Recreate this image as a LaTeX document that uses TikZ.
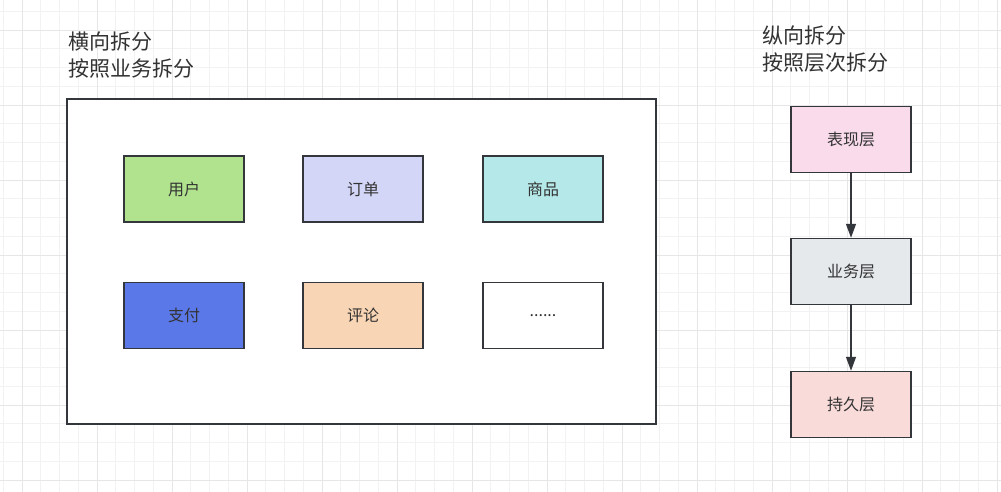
\documentclass[tikz,border=0pt]{standalone}
\usepackage{fontspec}
\newfontfamily\cjk{Noto Sans CJK SC}
\usetikzlibrary{arrows.meta}

\definecolor{edgec}{HTML}{33363B}
\definecolor{txtc}{HTML}{333333}
\definecolor{gridminor}{HTML}{F2F2F2}
\definecolor{gridmajor}{HTML}{E6E6E6}
\definecolor{userc}{HTML}{B1E38F}
\definecolor{orderc}{HTML}{D4D6F8}
\definecolor{goodsc}{HTML}{B5E9E9}
\definecolor{payc}{HTML}{5B78E9}
\definecolor{commentc}{HTML}{F8D5B4}
\definecolor{presc}{HTML}{F9DBEB}
\definecolor{bizc}{HTML}{E5E9EC}
\definecolor{persistc}{HTML}{F9DCDA}

\begin{document}
\begin{tikzpicture}
	[x=1pt,y=-1pt,
	box/.style={draw=edgec,line width=1.5pt,minimum width=120pt,
		minimum height=66pt,inner sep=0pt,text=txtc,
		font=\cjk\fontsize{16}{18}\selectfont},
	heading/.style={anchor=north west,inner sep=0pt,align=left,text=txtc,
		font=\cjk\fontsize{21}{27}\selectfont},
	arr/.style={-{Triangle[length=14pt,width=10pt]},draw=edgec,line width=1.4pt}]
	\useasboundingbox (0,0) rectangle (1001,492);
	\fill[white] (0,0) rectangle (1001,492);
	% grid
	\foreach \x in {3.25,22,...,1001}
		\draw[gridminor,line width=0.8pt] (\x,0) -- (\x,492);
	\foreach \y in {11.25,30,...,492}
		\draw[gridminor,line width=0.8pt] (0,\y) -- (1001,\y);
	\foreach \x in {22,97,...,1001}
		\draw[gridmajor,line width=0.8pt] (\x,0) -- (\x,492);
	\foreach \y in {30,105,...,492}
		\draw[gridmajor,line width=0.8pt] (0,\y) -- (1001,\y);
	
	% horizontal split
	\node[heading] (htitle) at (68,32) {横向拆分\\按照业务拆分};
	\node[draw=edgec,fill=white,line width=1.5pt,minimum width=589pt,
		minimum height=325pt,inner sep=0pt] (outer) at (361.5,261.5) {};
	\node[box,fill=userc] (user) at (184,189) {用户};
	\node[box,fill=orderc] (order) at (363,189) {订单};
	\node[box,fill=goodsc] (goods) at (543,189) {商品};
	\node[box,fill=payc] (pay) at (184,315.5) {支付};
	\node[box,fill=commentc] (comment) at (363,315.5) {评论};
	\node[box,fill=white] (more) at (543,315.5) {......};
	
	% vertical split
	\node[heading] (vtitle) at (762,26) {纵向拆分\\按照层次拆分};
	\node[box,fill=presc] (pres) at (851,139.5) {表现层};
	\node[box,fill=bizc] (biz) at (851,271.5) {业务层};
	\node[box,fill=persistc] (persist) at (851,404.5) {持久层};
	\path
	\foreach \startNode/\endNode in {pres/biz, biz/persist}
	{
		(\startNode) edge[arr] (\endNode)
	};
\end{tikzpicture}
\end{document}
